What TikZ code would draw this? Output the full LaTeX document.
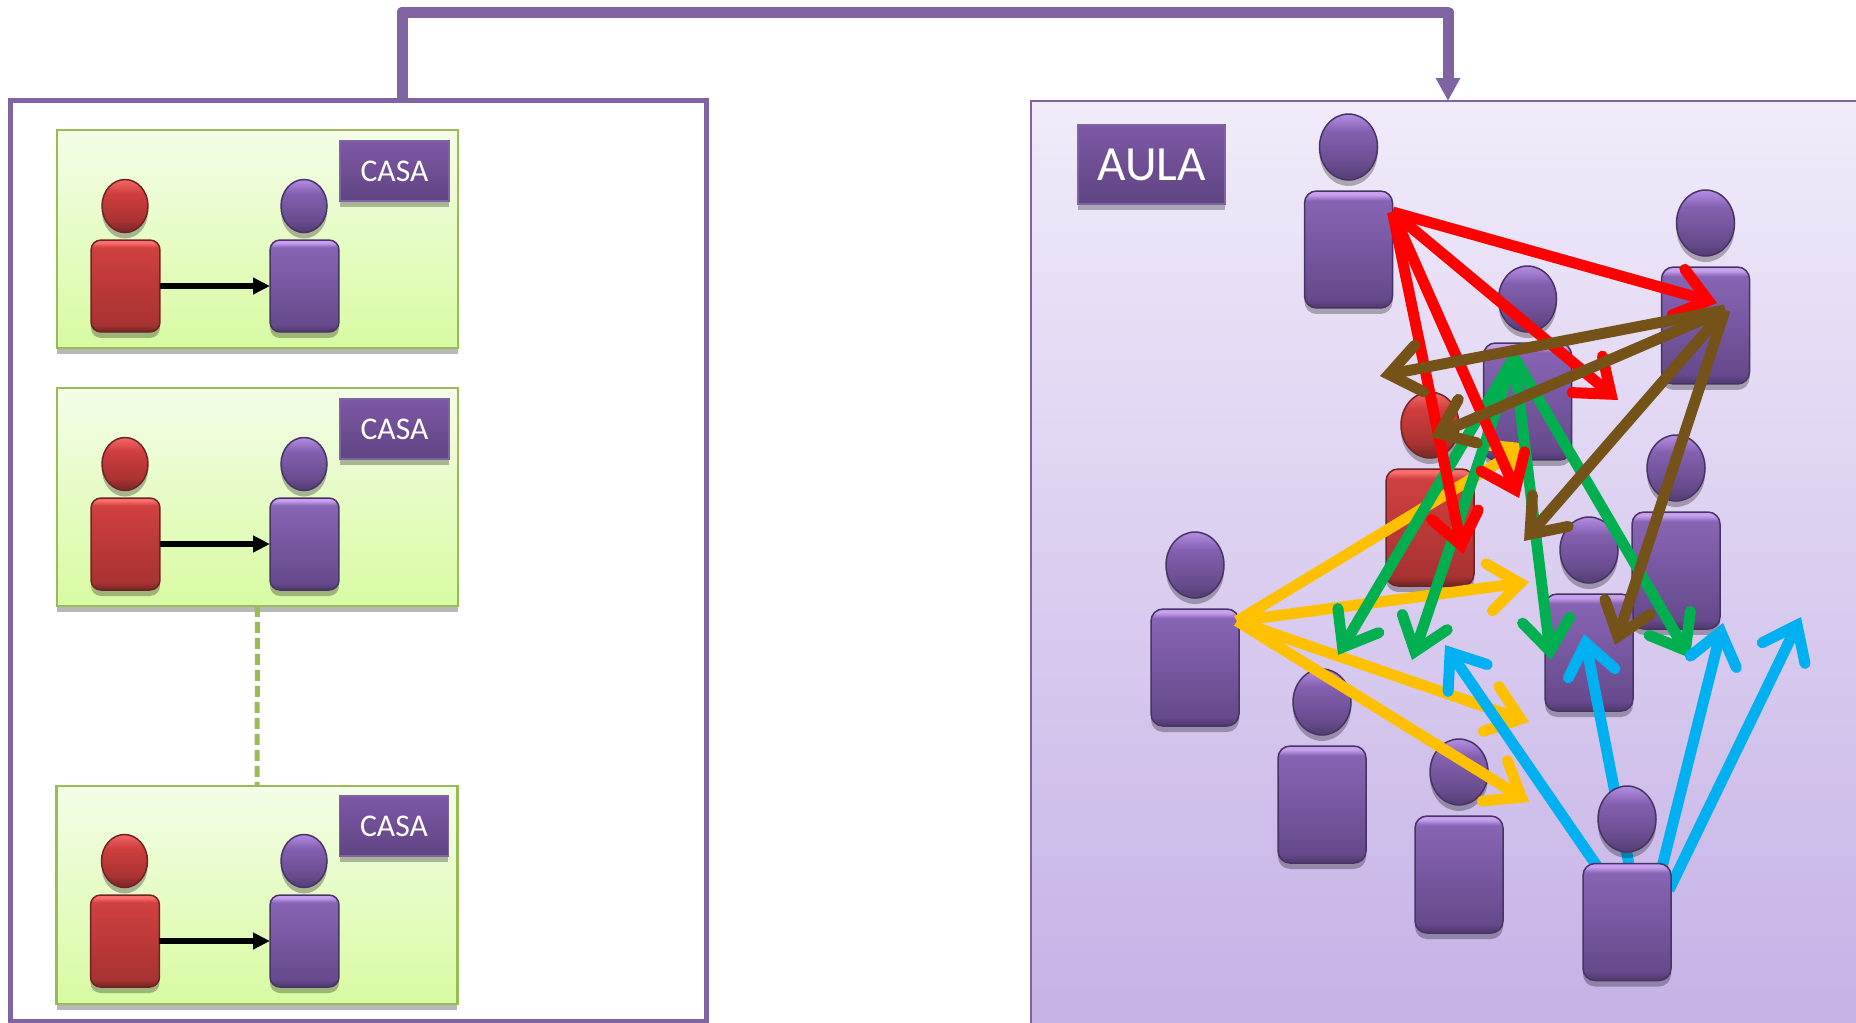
\documentclass[tikz,border=0pt]{standalone}
\usepackage{fontspec}
\setmainfont{Carlito}
\usetikzlibrary{arrows.meta,shapes.geometric,shadows}
\definecolor{morado}{RGB}{128, 100, 162}
\definecolor{moradoborde}{RGB}{72, 52, 100}
\definecolor{rojoborde}{RGB}{110, 36, 36}
\definecolor{verde}{RGB}{155, 187, 89}
\definecolor{verdearriba}{RGB}{244, 253, 232}
\definecolor{verdeabajo}{RGB}{216, 251, 162}
\definecolor{aulaarriba}{RGB}{241, 235, 250}
\definecolor{aulaabajo}{RGB}{197, 178, 230}
\definecolor{etiqarriba}{RGB}{126, 88, 166}
\definecolor{etiqabajo}{RGB}{95, 68, 130}
\definecolor{flechared}{RGB}{255, 0, 0}
\definecolor{flechagreen}{RGB}{0, 176, 80}
\definecolor{flechayellow}{RGB}{255, 192, 0}
\definecolor{flechablue}{RGB}{0, 176, 240}
\definecolor{flechabrown}{RGB}{116, 82, 24}
\pgfdeclareverticalshading{cuerpomorado}{100bp}{rgb(0bp)=(.33,.235,.455); rgb(26bp)=(.33,.235,.455); rgb(29bp)=(.4,.29,.55); rgb(71bp)=(.533,.392,.706); rgb(73.5bp)=(.784,.627,.941); rgb(100bp)=(.784,.627,.941)}
\pgfdeclareverticalshading{cuerporojo}{100bp}{rgb(0bp)=(.49,.157,.157); rgb(26bp)=(.49,.157,.157); rgb(29bp)=(.659,.196,.196); rgb(71bp)=(.816,.251,.251); rgb(73.5bp)=(.98,.431,.431); rgb(100bp)=(.98,.431,.431)}
\pgfdeclareverticalshading{cabezamorada}{100bp}{rgb(0bp)=(.345,.251,.471); rgb(28bp)=(.345,.251,.471); rgb(36bp)=(.408,.298,.557); rgb(62bp)=(.518,.376,.69); rgb(74bp)=(.69,.541,.878); rgb(100bp)=(.69,.541,.878)}
\pgfdeclareverticalshading{cabezaroja}{100bp}{rgb(0bp)=(.51,.165,.165); rgb(28bp)=(.51,.165,.165); rgb(36bp)=(.667,.196,.196); rgb(62bp)=(.816,.243,.243); rgb(74bp)=(.941,.392,.392); rgb(100bp)=(.941,.392,.392)}
\tikzset{
  sombra/.style={drop shadow={shadow xshift=0cm,shadow yshift=-0.12cm,fill=black,opacity=0.28}},
  cabeza/.style={draw=#1, ellipse, inner sep=0pt, outer sep=0pt, line width=0.03cm, sombra},
  cabezachica/.style={cabeza=#1, minimum width=0.92cm, minimum height=1.06cm},
  cabezagrande/.style={cabeza=#1, minimum width=1.16cm, minimum height=1.32cm},
  cuerpo/.style={draw=#1, rectangle, inner sep=0pt, outer sep=0pt, line width=0.03cm, sombra},
  cuerpochico/.style={cuerpo=#1, rounded corners=0.2cm, minimum width=1.38cm, minimum height=1.84cm},
  cuerpogrande/.style={cuerpo=#1, rounded corners=0.24cm, minimum width=1.76cm, minimum height=2.34cm},
  casabox/.style={draw=verde, line width=0.05cm, top color=verdearriba, bottom color=verdeabajo, minimum width=8.02cm, minimum height=4.36cm, inner sep=0pt, outer sep=0pt, sombra},
  etiqueta/.style={draw=morado, line width=0.03cm, top color=etiqarriba, bottom color=etiqabajo, text=white, inner sep=0pt, outer sep=0pt, sombra},
  linea/.style={line width=0.22cm, -{Straight Barb[length=0.62cm,width=0.95cm,line cap=round]}},
  flechachica/.style={line width=0.106cm, -{Triangle[length=0.34cm,width=0.32cm]}, black}
}
\begin{document}
\begin{tikzpicture}[x=0.02cm,y=-0.02cm]
  \useasboundingbox (0,0) rectangle (1856,1022);
  % Left frame
  \node[draw=morado, line width=0.1cm, minimum width=13.92cm, minimum height=18.44cm, inner sep=0pt, outer sep=0pt] (casas) at (358.5,561) {};

  % Homes
  \node[casabox] (casaA) at (257.5,239) {};
  \node[casabox] (casaB) at (257.5,497) {};
  \node[casabox] (casaC) at (257,895) {};
  \draw[verde, line width=0.1cm, dash pattern=on 0.22cm off 0.1cm] (casaB) -- (casaC);

  \node[etiqueta, minimum width=2.18cm, minimum height=1.2cm, font=\fontsize{18}{22}\selectfont] (casaAt) at (394.5,171) {CASA};
  \node[etiqueta, minimum width=2.18cm, minimum height=1.2cm, font=\fontsize{18}{22}\selectfont] (casaBt) at (394.5,429) {CASA};
  \node[etiqueta, minimum width=2.18cm, minimum height=1.2cm, font=\fontsize{18}{22}\selectfont] (casaCt) at (394,826) {CASA};

  \node[cabezachica=rojoborde, shading=cabezaroja] (hA) at (125,206) {};
  \node[cuerpochico=rojoborde, shading=cuerporojo] (cA) at (125.5,286) {};
  \node[cabezachica=moradoborde, shading=cabezamorada] (kA) at (304,206) {};
  \node[cuerpochico=moradoborde, shading=cuerpomorado] (jA) at (304.5,286) {};
  \draw[flechachica] (cA) -- (jA);

  \node[cabezachica=rojoborde, shading=cabezaroja] (hB) at (125,464) {};
  \node[cuerpochico=rojoborde, shading=cuerporojo] (cB) at (125.5,544) {};
  \node[cabezachica=moradoborde, shading=cabezamorada] (kB) at (304,464) {};
  \node[cuerpochico=moradoborde, shading=cuerpomorado] (jB) at (304.5,544) {};
  \draw[flechachica] (cB) -- (jB);

  \node[cabezachica=rojoborde, shading=cabezaroja] (hC) at (124.5,861) {};
  \node[cuerpochico=rojoborde, shading=cuerporojo] (cC) at (125,941) {};
  \node[cabezachica=moradoborde, shading=cabezamorada] (kC) at (304,861) {};
  \node[cuerpochico=moradoborde, shading=cuerpomorado] (jC) at (304.5,941) {};
  \draw[flechachica] (cC) -- (jC);

  % Classroom
  \node[draw=morado, line width=0.04cm, top color=aulaarriba, bottom color=aulaabajo, minimum width=16.6cm, minimum height=18.5cm, inner sep=0pt, outer sep=0pt, anchor=north west] (aula) at (1031,101) {};
  \node[etiqueta, minimum width=2.94cm, minimum height=1.58cm, font=\fontsize{28}{32}\selectfont] (aulat) at (1151.5,164.5) {AULA};

  % Top connector
  \coordinate (salida) at (402,100);
  \coordinate (codo) at (1448,12);
  \coordinate (entrada) at (1448,101);
  \draw[morado, line width=0.22cm, line join=round, -{Triangle[length=0.46cm,width=0.46cm]}] (salida) |- (codo) -- (entrada);

  % Students
  \node[cabezagrande=moradoborde, shading=cabezamorada] (k1) at (1348.5,147) {};
  \node[cuerpogrande=moradoborde, shading=cuerpomorado] (j1) at (1348.5,249.5) {};
  \node[cabezagrande=moradoborde, shading=cabezamorada] (k2) at (1705.5,223) {};
  \node[cuerpogrande=moradoborde, shading=cuerpomorado] (j2) at (1705.5,325.5) {};
  \node[cabezagrande=moradoborde, shading=cabezamorada] (k3) at (1527.5,299) {};
  \node[cuerpogrande=moradoborde, shading=cuerpomorado] (j3) at (1527.5,401.5) {};
  \node[cabezagrande=rojoborde, shading=cabezaroja] (k4) at (1430,425) {};
  \node[cuerpogrande=rojoborde, shading=cuerporojo] (j4) at (1430,527.5) {};
  \node[cabezagrande=moradoborde, shading=cabezamorada] (k5) at (1676,468) {};
  \node[cuerpogrande=moradoborde, shading=cuerpomorado] (j5) at (1676,570.5) {};
  \node[cabezagrande=moradoborde, shading=cabezamorada] (k6) at (1589,550) {};
  \node[cuerpogrande=moradoborde, shading=cuerpomorado] (j6) at (1589,652.5) {};
  \node[cabezagrande=moradoborde, shading=cabezamorada] (k7) at (1195,565) {};
  \node[cuerpogrande=moradoborde, shading=cuerpomorado] (j7) at (1195,667.5) {};
  \node[cabezagrande=moradoborde, shading=cabezamorada] (k8) at (1322,702) {};
  \node[cuerpogrande=moradoborde, shading=cuerpomorado] (j8) at (1322,804.5) {};
  \node[cabezagrande=moradoborde, shading=cabezamorada] (k9) at (1459,772) {};
  \node[cuerpogrande=moradoborde, shading=cuerpomorado] (j9) at (1459,874.5) {};

  % Yellow arrows
  \coordinate (ys) at (1237,621);
  \coordinate (y1) at (1529,444);
  \coordinate (y2) at (1529,582);
  \coordinate (y3) at (1529,722);
  \coordinate (y4) at (1529,802);
  \draw[linea, flechayellow] (ys) -- (y1);
  \draw[linea, flechayellow] (ys) -- (y2);
  \draw[linea, flechayellow] (ys) -- (y3);
  \draw[linea, flechayellow] (ys) -- (y4);

  % Green arrows
  \coordinate (gs) at (1514,357);
  \coordinate (g1) at (1338,655);
  \coordinate (g2) at (1412,660);
  \coordinate (g3) at (1551,660);
  \coordinate (g4) at (1690,658);
  \draw[linea, flechagreen] (gs) -- (g1);
  \draw[linea, flechagreen] (gs) -- (g2);
  \draw[linea, flechagreen] (gs) -- (g3);
  \draw[linea, flechagreen] (gs) -- (g4);

  % Red arrows
  \coordinate (rs) at (1392.5,212);
  \coordinate (r1) at (1717,303);
  \coordinate (r2) at (1618,400);
  \coordinate (r3) at (1519,498);
  \coordinate (r4) at (1463,554);
  \draw[linea, flechared] (rs) -- (r1);
  \draw[linea, flechared] (rs) -- (r2);
  \draw[linea, flechared] (rs) -- (r3);
  \draw[linea, flechared] (rs) -- (r4);

  % Brown arrows
  \coordinate (bs) at (1725,310);
  \coordinate (b1) at (1380,376);
  \coordinate (b2) at (1431,437);
  \coordinate (b3) at (1524,541);
  \coordinate (b4) at (1615,645);
  \draw[linea, flechabrown] (bs) -- (b1);
  \draw[linea, flechabrown] (bs) -- (b2);
  \draw[linea, flechabrown] (bs) -- (b3);
  \draw[linea, flechabrown] (bs) -- (b4);

  % Blue arrows
  \coordinate (a1) at (1610,885);
  \coordinate (a2) at (1631,875);
  \coordinate (a3) at (1660,875);
  \coordinate (a4) at (1669,890);
  \coordinate (t1) at (1445,645);
  \coordinate (t2) at (1584,634);
  \coordinate (t3) at (1723,623);
  \coordinate (t4) at (1801,617);
  \draw[linea, flechablue] (a1) -- (t1);
  \draw[linea, flechablue] (a2) -- (t2);
  \draw[linea, flechablue] (a3) -- (t3);
  \draw[linea, flechablue] (a4) -- (t4);

  % Last student
  \node[cabezagrande=moradoborde, shading=cabezamorada] (k10) at (1627,819) {};
  \node[cuerpogrande=moradoborde, shading=cuerpomorado] (j10) at (1627,922) {};
\end{tikzpicture}
\end{document}
